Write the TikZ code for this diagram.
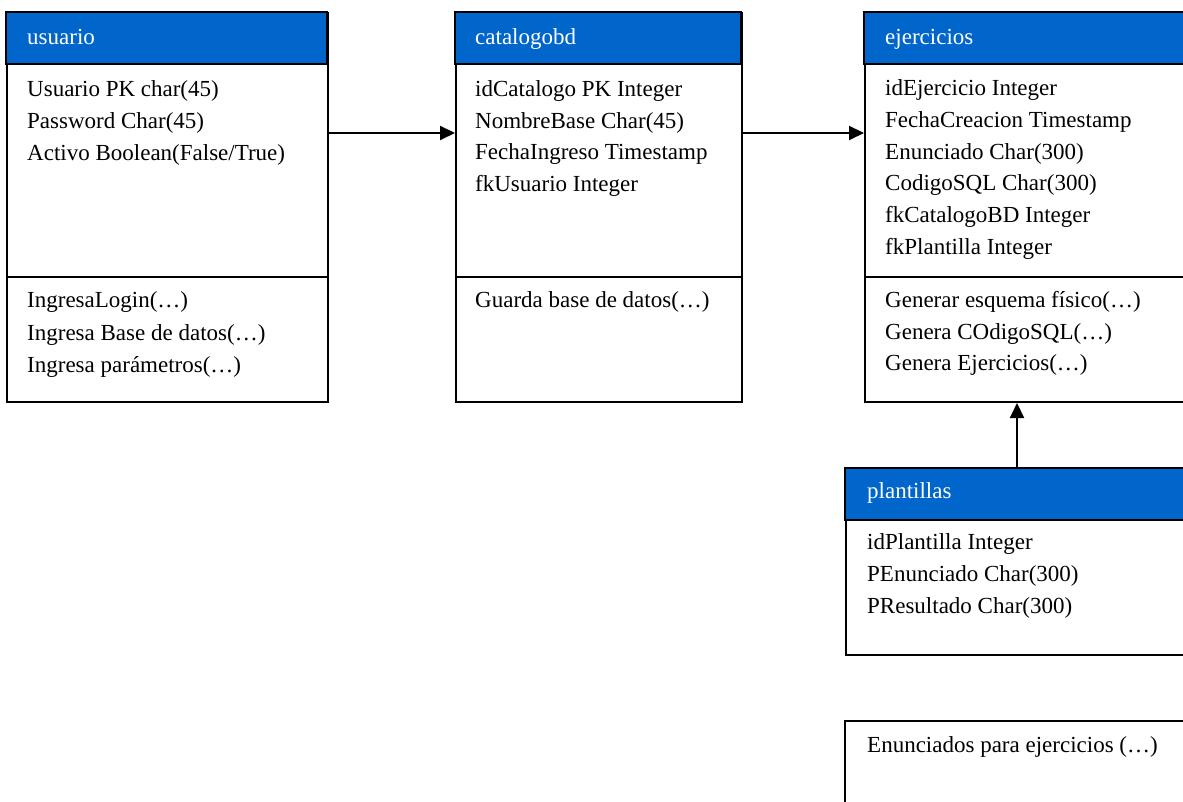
\documentclass[tikz,border=0pt]{standalone}
\usepackage{fontspec}
\setmainfont{Liberation Serif}
\usetikzlibrary{arrows.meta}
\definecolor{hdrblue}{HTML}{0066CC}
\begin{document}
\begin{tikzpicture}[x=1pt,y=-1pt,
  classbox/.style={draw=black, line width=2pt, rectangle, inner sep=0pt, anchor=north west},
  header/.style={fill=hdrblue, draw=black, line width=2pt},
  divider/.style={draw=black, line width=2pt},
  title/.style={anchor=base west, inner sep=0pt, text=white, font=\fontsize{23}{28}\selectfont},
  entry/.style={anchor=base west, inner sep=0pt, text=black, font=\fontsize{23}{28}\selectfont},
  link/.style={draw=black, line width=2pt, -{Triangle[length=15pt,width=14pt]}}
]
\clip (0,0) rectangle (1183,802);
\fill[white] (0,0) rectangle (1183,802);

% class boxes
\node[classbox, minimum width=321pt, minimum height=389pt] (usuario) at (6,12) {};
\node[classbox, minimum width=286pt, minimum height=389pt] (catalogobd) at (455,12) {};
\node[classbox, minimum width=340pt, minimum height=389pt] (ejercicios) at (864,12) {};
\node[classbox, minimum width=360pt, minimum height=186pt] (plantillas) at (845,468) {};
\node[classbox, minimum width=360pt, minimum height=120pt] (enunciados) at (844,720) {};

% title bars
\path[header] (6,12) rectangle (327,64);
\path[header] (455,12) rectangle (741,64);
\path[header] (864,12) rectangle (1204,64);
\path[header] (845,468) rectangle (1205,520);

% compartment dividers
\draw[divider] (6,277) -- (327,277);
\draw[divider] (455,277) -- (741,277);
\draw[divider] (864,277) -- (1204,277);

% usuario
\node[title] (t-usuario) at (27,45) {usuario};
\node[entry] (u1) at (27,97) {Usuario PK char(45)};
\node[entry] (u2) at (27,129) {Password Char(45)};
\node[entry] (u3) at (27,161) {Activo Boolean(False/True)};
\node[entry] (u4) at (27,308) {IngresaLogin(…)};
\node[entry] (u5) at (27,340) {Ingresa Base de datos(…)};
\node[entry] (u6) at (27,372) {Ingresa parámetros(…)};

% catalogobd
\node[title] (t-catalogobd) at (475,45) {catalogobd};
\node[entry] (c1) at (475,97) {idCatalogo PK Integer};
\node[entry] (c2) at (475,129) {NombreBase Char(45)};
\node[entry] (c3) at (475,160) {FechaIngreso Timestamp};
\node[entry] (c4) at (475,192) {fkUsuario Integer};
\node[entry] (c5) at (475,308) {Guarda base de datos(…)};

% ejercicios
\node[title] (t-ejercicios) at (885,45) {ejercicios};
\node[entry] (e1) at (885,96) {idEjercicio Integer};
\node[entry] (e2) at (885,128) {FechaCreacion Timestamp};
\node[entry] (e3) at (885,160) {Enunciado Char(300)};
\node[entry] (e4) at (885,191) {CodigoSQL Char(300)};
\node[entry] (e5) at (885,223) {fkCatalogoBD Integer};
\node[entry] (e6) at (885,255) {fkPlantilla Integer};
\node[entry] (e7) at (885,307) {Generar esquema físico(…)};
\node[entry] (e8) at (885,339) {Genera COdigoSQL(…)};
\node[entry] (e9) at (885,370) {Genera Ejercicios(…)};

% plantillas
\node[title] (t-plantillas) at (867,498) {plantillas};
\node[entry] (p1) at (867,549) {idPlantilla Integer};
\node[entry] (p2) at (867,581) {PEnunciado Char(300)};
\node[entry] (p3) at (867,613) {PResultado Char(300)};

% free-standing operations box
\node[entry] (n1) at (867,752) {Enunciados para ejercicios (…)};

% associations
\coordinate (row) at (0,133);
\coordinate (col) at (1017,0);
\draw[link] (usuario.east |- row) -- (catalogobd.west |- row);
\draw[link] (catalogobd.east |- row) -- (ejercicios.west |- row);
\draw[link] (col |- plantillas.north) -- (col |- ejercicios.south);
\end{tikzpicture}
\end{document}
